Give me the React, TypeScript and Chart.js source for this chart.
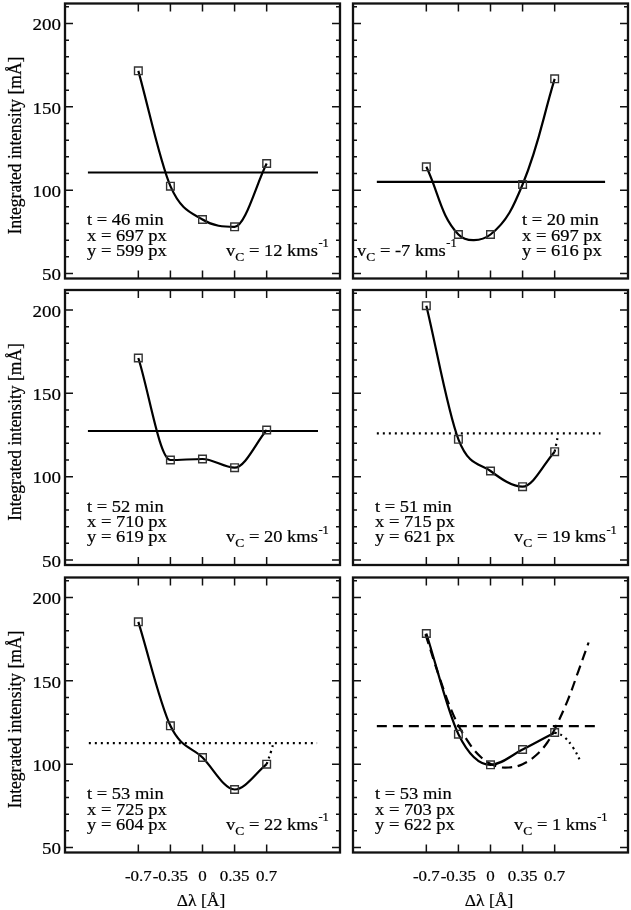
import React, { useEffect, useRef } from 'react';
import { Chart, registerables } from 'chart.js';

Chart.register(...registerables);

// ---------- data ----------
const DL = [-0.7, -0.35, 0, 0.35, 0.7];
const X_TICK_LABELS = ['-0.7', '-0.35', '0', '0.35', '0.7'];
const Y_TICKS = [50, 60, 70, 80, 90, 100, 110, 120, 130, 140, 150, 160, 170, 180, 190, 200, 210];
const Y_LABELED = [50, 100, 150, 200];

const I_46 = [171.6, 102.4, 82.4, 78, 116];
const I_20 = [114, 73.4, 73.4, 103.4, 166.8];
const I_52 = [171.2, 110, 110.6, 105.4, 128];
const I_51 = [202.6, 122.4, 103.4, 94, 115];
const I_53A = [185.4, 123, 104, 84.8, 100];
const I_53B = [178.4, 118, 99.6, 108.8, 119];
const INTENSITIES = [I_46, I_20, I_52, I_51, I_53A, I_53B];
const CURVE_MODE = ['monotone', 'default', 'monotone', 'monotone', 'monotone', 'monotone'];

const LEVELS = [110.6, 105, 127.4, 126, 112.6, 122.8];
const LEVEL_FROM = [-1.25, -1.24, -1.25, -1.24, -1.24, -1.24];
const LEVEL_TO = [1.26, 1.25, 1.26, 1.2, 1.25, 1.18];
const LEVEL_STYLE = ['solid', 'solid', 'solid', 'dotted', 'dotted', 'dashed'];

const T_MIN = [46, 20, 52, 51, 53, 53];
const X_PX = [697, 697, 710, 715, 725, 703];
const Y_PX = [599, 616, 619, 621, 604, 622];
const V_C = [12, -7, 20, 19, 22, 1];

// dotted extrapolations beyond the last point
const EXT4_X = [0.7, 0.715, 0.73];
const EXT4_Y = [115, 119, 123];
const EXT5_X = [0.7, 0.75, 0.775];
const EXT5_Y = [100, 108, 113];
const EXT6_X = [0.7, 0.8, 0.9, 0.99];
const EXT6_Y = [119, 116.5, 110, 101];
const EXT_X = [null, null, null, EXT4_X, EXT5_X, EXT6_X];
const EXT_Y = [null, null, null, EXT4_Y, EXT5_Y, EXT6_Y];

// dashed fit curve in the last panel
const FIT6_X = [-0.71, -0.55, -0.4, -0.25, -0.1, 0.05, 0.2, 0.35, 0.5, 0.62, 0.7, 0.84, 0.96, 1.07];
const FIT6_Y = [178, 151, 129, 114, 104, 99, 98, 100, 105.5, 113, 121, 138, 156, 173];

const Y_TITLE = 'Integrated intensity [mÅ]';
const X_TITLE = 'Δλ [Å]';

// ---------- layout ----------
const COLS = [
  { left: 0, width: 347, yW: 65, padR: 7 },
  { left: 347, width: 284, yW: 6, padR: 3 },
];
const ROWS = [
  { top: 0, height: 285, padT: 3.5, xH: 6.5 },
  { top: 285, height: 287, padT: 5, xH: 7 },
  { top: 572, height: 338, padT: 5.5, xH: 57.5 },
];

const FAMILY = "'Liberation Serif', 'Times New Roman', serif";
const INK = '#000';
const SQ = 0.92; // slight vertical squash of the lettering in the reference
const WEIGHT = 0.22;

const fnt = (s: number) => `${s}px ${FAMILY}`;

function sqText(ctx: any, s: string, x: number, y: number, size: number, align: string = 'left') {
  ctx.save();
  ctx.translate(x, y);
  ctx.scale(1, SQ);
  ctx.font = fnt(size);
  ctx.textAlign = align;
  ctx.textBaseline = 'alphabetic';
  ctx.fillText(s, 0, 0);
  ctx.lineWidth = WEIGHT;
  ctx.strokeText(s, 0, 0);
  ctx.restore();
}

const framePlugin = {
  id: 'frame',
  afterDraw(chart: any) {
    const { ctx, chartArea: a, scales } = chart;
    const xs = scales.x;
    const ys = scales.y;
    ctx.save();
    ctx.strokeStyle = '#111';
    ctx.lineWidth = 1.5;
    ctx.beginPath();
    ys.ticks.forEach((t: any) => {
      const py = ys.getPixelForValue(t.value);
      const len = t.value % 50 === 0 ? 8 : 4;
      ctx.moveTo(a.left, py);
      ctx.lineTo(a.left + len, py);
      ctx.moveTo(a.right, py);
      ctx.lineTo(a.right - len, py);
    });
    xs.ticks.forEach((t: any) => {
      const px = xs.getPixelForValue(t.value);
      ctx.moveTo(px, a.top);
      ctx.lineTo(px, a.top + 8);
      ctx.moveTo(px, a.bottom);
      ctx.lineTo(px, a.bottom - 8);
    });
    ctx.stroke();
    ctx.lineWidth = 2.3;
    ctx.strokeRect(a.left, a.top, a.right - a.left, a.bottom - a.top);
    ctx.restore();
  },
};

const textPlugin = {
  id: 'annot',
  afterDraw(chart: any, _args: any, opts: any) {
    const i = opts.index;
    const { ctx, chartArea: a, scales } = chart;
    const xs = scales.x;
    const ys = scales.y;
    const col = i % 2;
    const row = Math.floor(i / 2);
    ctx.save();
    ctx.fillStyle = INK;
    ctx.strokeStyle = INK;

    // y tick labels + title (left column)
    if (col === 0) {
      ys.ticks.forEach((t: any) => {
        if (Y_LABELED.indexOf(t.value) < 0) return;
        const py = ys.getPixelForValue(t.value);
        sqText(ctx, String(t.value), a.left - 4, py + 6.8, 19, 'right');
      });
      ctx.save();
      ctx.translate(20.7, (a.top + a.bottom) / 2 + 4.5);
      ctx.rotate(-Math.PI / 2);
      ctx.scale(SQ, 1);
      ctx.font = fnt(19);
      ctx.textAlign = 'center';
      ctx.textBaseline = 'alphabetic';
      ctx.fillText(Y_TITLE, 0, 0);
      ctx.lineWidth = WEIGHT;
      ctx.strokeText(Y_TITLE, 0, 0);
      ctx.restore();
    }
    // x tick labels + title (bottom row)
    if (row === 2) {
      xs.ticks.forEach((t: any, k: number) => {
        const px = xs.getPixelForValue(t.value);
        sqText(ctx, X_TICK_LABELS[k], px, a.bottom + 28.2, 17, 'center');
      });
      sqText(ctx, X_TITLE, (a.left + a.right) / 2 - 1.5, a.bottom + 53, 17.5, 'center');
    }

    // annotations
    const FS = 18.5;
    const infoX = i === 1 ? a.left + 169 : a.left + 22;
    const lines = [`t = ${T_MIN[i]} min`, `x = ${X_PX[i]} px`, `y = ${Y_PX[i]} px`];
    const offs = [53.5, 38, 22.8];
    lines.forEach((s, k) => sqText(ctx, s, infoX, a.bottom - offs[k], FS));

    let x = i === 1 ? a.left + 4 : a.left + 161;
    const by = a.bottom - 22.8;
    ctx.font = fnt(FS);
    sqText(ctx, 'v', x, by, FS);
    x += ctx.measureText('v').width;
    ctx.font = fnt(13.5);
    sqText(ctx, 'C', x, by + 5, 13.5);
    x += ctx.measureText('C').width;
    const mid = ` = ${V_C[i]} kms`;
    ctx.font = fnt(FS);
    sqText(ctx, mid, x, by, FS);
    x += ctx.measureText(mid).width;
    sqText(ctx, '-1', x + 0.5, by - 8.5, 12.5);
    ctx.restore();
  },
};

function dashFor(style: string) {
  if (style === 'dotted') return [2, 4];
  if (style === 'dashed') return [10, 6];
  return [];
}

function buildConfig(idx: number): any {
  const col = idx % 2;
  const row = Math.floor(idx / 2);
  const C = COLS[col];
  const R = ROWS[row];
  const vals = INTENSITIES[idx];

  const datasets: any[] = [
    {
      data: DL.map((x, k) => ({ x, y: vals[k] })),
      showLine: true,
      tension: 0.4,
      cubicInterpolationMode: CURVE_MODE[idx],
      borderColor: '#000',
      borderWidth: 2.2,
      pointStyle: 'rect',
      pointRadius: 5.4,
      pointBorderWidth: 1.4,
      pointBorderColor: '#333',
      pointBackgroundColor: 'rgba(0,0,0,0)',
    },
    {
      data: [
        { x: LEVEL_FROM[idx], y: LEVELS[idx] },
        { x: LEVEL_TO[idx], y: LEVELS[idx] },
      ],
      showLine: true,
      borderColor: '#000',
      borderWidth: 2.2,
      borderDash: dashFor(LEVEL_STYLE[idx]),
      pointRadius: 0,
    },
  ];
  const ex = EXT_X[idx];
  const ey = EXT_Y[idx];
  if (ex && ey) {
    datasets.push({
      data: ex.map((x, k) => ({ x, y: ey[k] })),
      showLine: true,
      tension: 0.4,
      borderColor: '#000',
      borderWidth: 2.2,
      borderDash: [2, 4],
      pointRadius: 0,
    });
  }
  if (idx === 5) {
    datasets.push({
      data: FIT6_X.map((x, k) => ({ x, y: FIT6_Y[k] })),
      showLine: true,
      tension: 0.4,
      borderColor: '#000',
      borderWidth: 2.2,
      borderDash: [10, 6],
      pointRadius: 0,
    });
  }

  return {
    type: 'scatter',
    data: { datasets },
    options: {
      animation: false,
      responsive: false,
      events: [],
      layout: { autoPadding: false, padding: { left: 0, right: C.padR, top: R.padT, bottom: 0 } },
      plugins: {
        legend: { display: false },
        tooltip: { enabled: false },
        annot: { index: idx },
      },
      scales: {
        x: {
          type: 'linear',
          min: -1.5,
          max: 1.5,
          grid: { display: false, drawTicks: false },
          border: { display: false },
          afterBuildTicks: (s: any) => {
            s.ticks = DL.map((v) => ({ value: v }));
          },
          afterFit: (s: any) => {
            s.height = R.xH;
            s.paddingLeft = 0;
            s.paddingRight = 0;
            s.paddingTop = 0;
            s.paddingBottom = 0;
          },
          ticks: { display: false, autoSkip: false },
          title: { display: false },
        },
        y: {
          type: 'linear',
          min: 47,
          max: 212,
          grid: { display: false, drawTicks: false },
          border: { display: false },
          afterBuildTicks: (s: any) => {
            s.ticks = Y_TICKS.map((v) => ({ value: v }));
          },
          afterFit: (s: any) => {
            s.width = C.yW;
            s.paddingLeft = 0;
            s.paddingRight = 0;
            s.paddingTop = 0;
            s.paddingBottom = 0;
          },
          ticks: { display: false, autoSkip: false },
          title: { display: false },
        },
      },
    },
    plugins: [framePlugin, textPlugin],
  };
}

function Panel({ idx }: { idx: number }) {
  const ref = useRef<HTMLCanvasElement | null>(null);
  useEffect(() => {
    if (!ref.current) return;
    const chart = new Chart(ref.current, buildConfig(idx));
    return () => chart.destroy();
  }, [idx]);
  const C = COLS[idx % 2];
  const R = ROWS[Math.floor(idx / 2)];
  return (
    <canvas
      ref={ref}
      width={C.width}
      height={R.height}
      style={{ position: 'absolute', left: C.left, top: R.top, width: C.width, height: R.height, display: 'block' }}
    />
  );
}

export default function App() {
  return (
    <div style={{ position: 'absolute', left: 0, top: 0, width: 631, height: 910, background: '#fff', overflow: 'hidden' }}>
      {[0, 1, 2, 3, 4, 5].map((i) => (
        <Panel key={i} idx={i} />
      ))}
    </div>
  );
}
